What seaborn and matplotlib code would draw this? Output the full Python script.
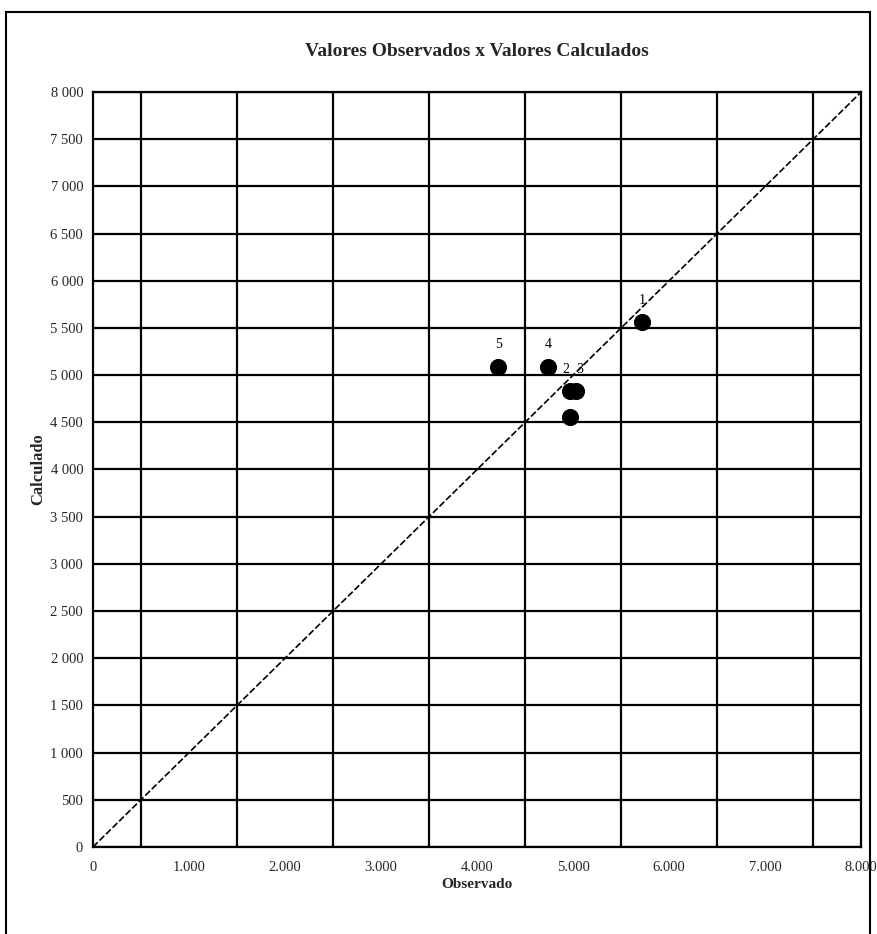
import matplotlib
matplotlib.use("Agg")
import matplotlib.pyplot as plt
import seaborn as sns
import pandas as pd
from matplotlib.patches import Rectangle

# pontos observados x calculados
rotulos = ["1", "2", "3", "4", "5", "6"]
observado = [5720, 4970, 5030, 4740, 4220, 4970]
calculado = [5560, 4830, 4830, 5090, 5090, 4560]
desloc_rotulo = [0, -3, 3, 0, 0, 0]

linha_x = [0, 8000]
linha_y = [0, 8000]

ticks_y = list(range(0, 8001, 500))
ticks_x = list(range(0, 8001, 1000))
grade_x = list(range(500, 8000, 1000))

df = pd.DataFrame({"Observado": observado, "Calculado": calculado, "rotulo": rotulos})

sns.set_style("white")
plt.rcParams["font.family"] = ["Liberation Serif", "DejaVu Serif"]

fig = plt.figure(figsize=(8.77, 9.34), dpi=100)
ax = fig.add_axes([0.106, 0.0932, 0.876, 0.8083])

# grade
for v in ticks_y:
    ax.axhline(v, color="black", lw=1.6, zorder=1)
for v in grade_x:
    ax.axvline(v, color="black", lw=1.6, zorder=1)

sns.lineplot(x=linha_x, y=linha_y, ax=ax, color="black", lw=1.2,
             linestyle=(0, (4, 1.5)), zorder=2)
sns.scatterplot(data=df, x="Observado", y="Calculado", ax=ax, color="black",
                s=130, edgecolor="black", zorder=3)

for r, x, y, dx in zip(rotulos, observado, calculado, desloc_rotulo):
    ax.annotate(r, (x, y), xytext=(dx, 11), textcoords="offset points",
                ha="center", va="bottom", fontsize=10, color="black")

ax.set_xlim(0, 8000)
ax.set_ylim(0, 8000)
ax.set_yticks(ticks_y)
ax.set_yticklabels([f"{v:,}".replace(",", " ") for v in ticks_y])
ax.set_xticks(ticks_x)
ax.set_xticklabels([f"{v:,}".replace(",", ".") for v in ticks_x])
ax.tick_params(axis="both", labelsize=10.5, length=4, width=1, color="black",
               direction="out")
ax.tick_params(axis="x", pad=6)
ax.tick_params(axis="y", pad=3)
for s in ax.spines.values():
    s.set_color("black")
    s.set_linewidth(1.6)

ax.set_xlabel("Observado", fontsize=11, fontweight="bold", labelpad=3)
ax.set_ylabel("Calculado", fontsize=12, fontweight="bold", labelpad=3)
ax.set_title("Valores Observados x Valores Calculados", fontsize=14,
             fontweight="bold", pad=26)

# moldura externa
fig.patches.append(Rectangle((6 / 877, -0.05), 864 / 877, 1.05 - 12 / 934,
                             transform=fig.transFigure, fill=False,
                             edgecolor="black", lw=1.5))

fig.savefig("out.png", dpi=100)
